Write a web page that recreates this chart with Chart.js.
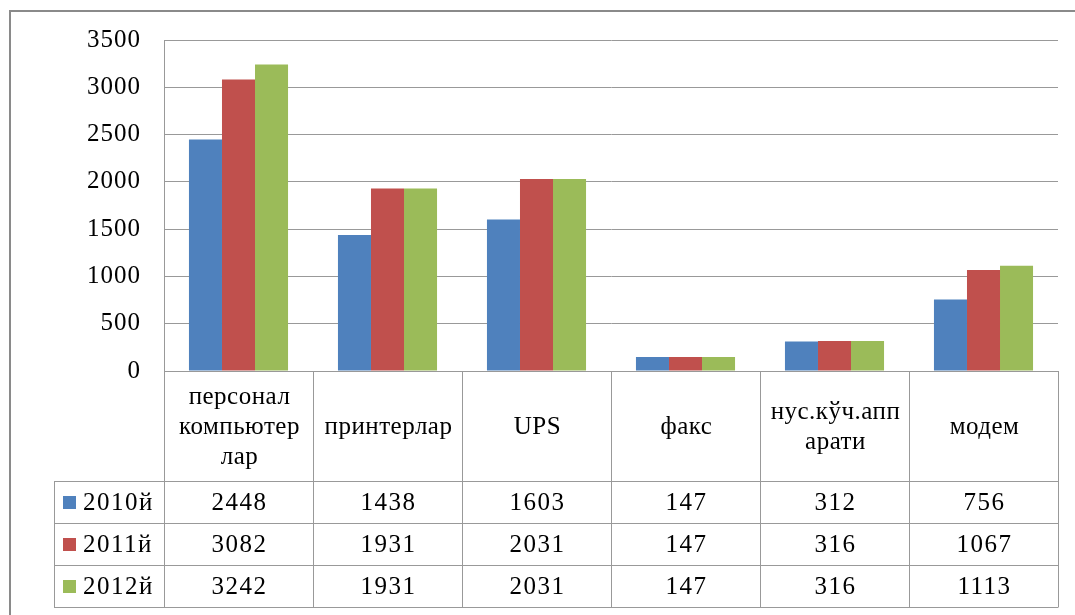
<!DOCTYPE html>
<html>
<head>
<meta charset="utf-8">
<script src="https://cdn.jsdelivr.net/npm/chart.js@4/dist/chart.umd.min.js"></script>
<style>
  html, body { margin: 0; padding: 0; background: #fff; }
  #wrap { width: 1075px; height: 615px; }
</style>
</head>
<body>
<div id="wrap"><canvas id="chart" width="1075" height="615"></canvas></div>
<script>
const categories = [['персонал', 'компьютер', 'лар'], ['принтерлар'], ['UPS'], ['факс'], ['нус.кўч.апп', 'арати'], ['модем']];
const seriesNames = ['2010й', '2011й', '2012й'];
const values2010 = [2448, 1438, 1603, 147, 312, 756];
const values2011 = [3082, 1931, 2031, 147, 316, 1067];
const values2012 = [3242, 1931, 2031, 147, 316, 1113];
const seriesColors = ['#4F81BD', '#C0504D', '#9BBB59'];

const FONT = '"Liberation Serif", "Times New Roman", serif';
const GRID = '#999999';

// white background, frame, and letter spacing for the axis labels
const framePlugin = {
	id: 'frame',
	beforeDraw(chart) {
		const ctx = chart.ctx;
		ctx.save();
		ctx.fillStyle = '#fff';
		ctx.fillRect(0, 0, chart.width, chart.height);
		ctx.strokeStyle = '#8a8a8a';
		ctx.lineWidth = 2;
		ctx.strokeRect(10, 11, chart.width + 20, chart.height + 20);
		ctx.restore();
		ctx.letterSpacing = '1px';
	}
};

// data table under the plot, columns follow the x scale
const tablePlugin = {
	id: 'dataTable',
	afterDraw(chart) {
		const ctx = chart.ctx;
		const area = chart.chartArea;
		const xs = chart.scales.x;
		const n = categories.length;
		const colW = (area.right - area.left) / n;
		const top = area.bottom;
		const headH = 110;
		const rowH = 42;
		const legLeft = 54;
		const bottom = top + headH + rowH * 3;
		const edges = [];
		for (let i = 0; i < n; i++) edges.push(xs.getPixelForValue(i) - colW / 2);
		edges.push(xs.getPixelForValue(n - 1) + colW / 2);

		ctx.save();
		ctx.strokeStyle = GRID;
		ctx.lineWidth = 1;
		ctx.beginPath();
		ctx.moveTo(edges[0], top + 0.5); ctx.lineTo(edges[n], top + 0.5);
		for (let r = 0; r <= 3; r++) {
			const y = Math.round(top + headH + r * rowH) + 0.5;
			ctx.moveTo(legLeft, y); ctx.lineTo(edges[n], y);
		}
		edges.forEach(x => {
			const xx = Math.round(x) + 0.5;
			ctx.moveTo(xx, top); ctx.lineTo(xx, bottom + 0.5);
		});
		ctx.moveTo(legLeft + 0.5, top + headH); ctx.lineTo(legLeft + 0.5, bottom + 0.5);
		ctx.stroke();

		ctx.fillStyle = '#000';
		ctx.font = '25px ' + FONT;
		ctx.letterSpacing = '0.5px';
		ctx.textAlign = 'center';
		ctx.textBaseline = 'middle';
		const lineH = 30;
		categories.forEach((lines, i) => {
			const cx = xs.getPixelForValue(i) + 1;
			const cy = top + headH / 2 + 1 - (lines.length - 1) * lineH / 2;
			lines.forEach((t, k) => ctx.fillText(t, cx, cy + k * lineH));
		});

		ctx.letterSpacing = '1.5px';
		const rows = [values2010, values2011, values2012];
		rows.forEach((vals, r) => {
			const cy = top + headH + r * rowH + rowH / 2 + 1;
			vals.forEach((v, i) => ctx.fillText(String(v), xs.getPixelForValue(i) + 1, cy));
			ctx.fillStyle = seriesColors[r];
			ctx.fillRect(legLeft + 9, Math.round(cy - 7), 13, 13);
			ctx.fillStyle = '#000';
			ctx.textAlign = 'left';
			ctx.fillText(seriesNames[r], legLeft + 29, cy);
			ctx.textAlign = 'center';
		});
		ctx.restore();
	}
};

function draw() {
	new Chart(document.getElementById('chart').getContext('2d'), {
		type: 'bar',
		data: {
			labels: categories,
			datasets: seriesNames.map((name, k) => ({
				label: name,
				data: [values2010, values2011, values2012][k],
				backgroundColor: seriesColors[k],
				borderWidth: 0,
				categoryPercentage: 0.665,
				barPercentage: 1
			}))
		},
		options: {
			responsive: false,
			animation: false,
			layout: { padding: { left: 0, right: 17, top: 40, bottom: 244 } },
			plugins: { legend: { display: false }, tooltip: { enabled: false } },
			scales: {
				x: { display: false },
				y: {
					min: 0,
					max: 3500,
					ticks: {
						stepSize: 500,
						color: '#000',
						padding: 23,
						font: { family: FONT, size: 25 },
						callback: v => String(v)
					},
					grid: { color: GRID, drawTicks: false },
					border: { display: true, color: GRID },
					afterFit(scale) { scale.width = 164; }
				}
			}
		},
		plugins: [framePlugin, tablePlugin]
	});
}

document.fonts.load('25px "Liberation Serif"').then(draw, draw);
</script>
</body>
</html>
